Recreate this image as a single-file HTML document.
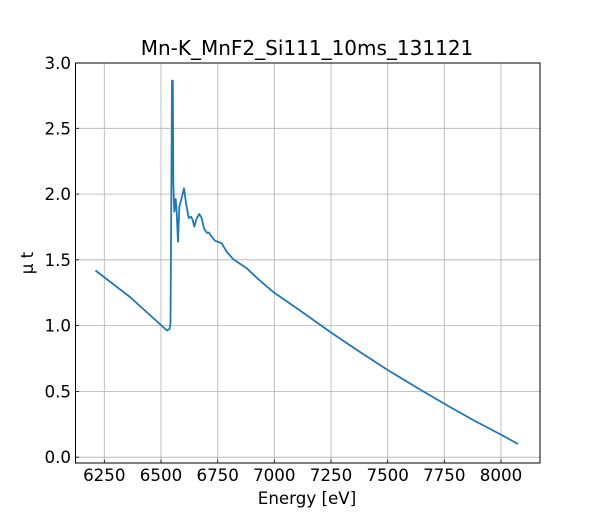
<!DOCTYPE html>
<html><head><meta charset="utf-8"><style>
html,body{margin:0;padding:0;background:#fff;}
svg{display:block;font-family:"DejaVu Sans","Liberation Sans",sans-serif;}
</style></head><body>
<svg width="600" height="520" viewBox="0 0 600 520" xmlns="http://www.w3.org/2000/svg">
<rect width="600" height="520" fill="#fff"/>
<g stroke="#b0b0b0" stroke-width="0.8">
<line x1="104.3" y1="63" x2="104.3" y2="463"/>
<line x1="161" y1="63" x2="161" y2="463"/>
<line x1="217.7" y1="63" x2="217.7" y2="463"/>
<line x1="274.3" y1="63" x2="274.3" y2="463"/>
<line x1="331" y1="63" x2="331" y2="463"/>
<line x1="387.7" y1="63" x2="387.7" y2="463"/>
<line x1="444.3" y1="63" x2="444.3" y2="463"/>
<line x1="501" y1="63" x2="501" y2="463"/>
<line x1="75.5" y1="128.3" x2="540" y2="128.3"/>
<line x1="75.5" y1="194.1" x2="540" y2="194.1"/>
<line x1="75.5" y1="259.8" x2="540" y2="259.8"/>
<line x1="75.5" y1="325.6" x2="540" y2="325.6"/>
<line x1="75.5" y1="391.4" x2="540" y2="391.4"/>
<line x1="75.5" y1="457.2" x2="540" y2="457.2"/>
</g>
<polyline fill="none" stroke="#1f77b4" stroke-width="1.8" stroke-linejoin="round" points="95.5,270.5 130,297 167,330.5 169.5,329 170.5,323 171.3,200 172,80.7 172.8,80.7 173.3,183 174.3,211.7 175.7,199 176.7,213 178,241.7 179.3,206.7 182,196.7 184,188.3 186,203 188.7,218 191,216.7 192.7,220 194.3,226.7 196.7,218.3 199.3,214 201.7,218.3 204,228.3 206.7,232.7 209,232.7 211.7,236.7 215,240.7 221.7,243.3 226.7,251.7 233.3,259.3 246.7,268.3 260,280.7 274.3,292.8 300,310.5 331,332.5 360,352 387.7,370 420,389.5 450,407 475,421 500.7,434.5 518,444"/>
<rect x="75.5" y="63" width="464.5" height="400" fill="none" stroke="#000" stroke-width="1"/>
<g stroke="#000" stroke-width="0.8">
<line x1="104.3" y1="463" x2="104.3" y2="459.5"/><line x1="161" y1="463" x2="161" y2="459.5"/>
<line x1="217.7" y1="463" x2="217.7" y2="459.5"/><line x1="274.3" y1="463" x2="274.3" y2="459.5"/>
<line x1="331" y1="463" x2="331" y2="459.5"/><line x1="387.7" y1="463" x2="387.7" y2="459.5"/>
<line x1="444.3" y1="463" x2="444.3" y2="459.5"/><line x1="501" y1="463" x2="501" y2="459.5"/>
<line x1="75.5" y1="63" x2="79" y2="63"/><line x1="75.5" y1="128.3" x2="79" y2="128.3"/>
<line x1="75.5" y1="194.1" x2="79" y2="194.1"/><line x1="75.5" y1="259.8" x2="79" y2="259.8"/>
<line x1="75.5" y1="325.6" x2="79" y2="325.6"/><line x1="75.5" y1="391.4" x2="79" y2="391.4"/>
<line x1="75.5" y1="457.2" x2="79" y2="457.2"/>
</g>
<g font-size="16.7" fill="#000" text-anchor="middle">
<text x="104.3" y="481">6250</text><text x="161" y="481">6500</text>
<text x="217.7" y="481">6750</text><text x="274.3" y="481">7000</text>
<text x="331" y="481">7250</text><text x="387.7" y="481">7500</text>
<text x="444.3" y="481">7750</text><text x="501" y="481">8000</text>
</g>
<g font-size="16.7" fill="#000" text-anchor="end">
<text x="71" y="69">3.0</text><text x="71" y="134.3">2.5</text>
<text x="71" y="200.1">2.0</text><text x="71" y="265.8">1.5</text>
<text x="71" y="331.6">1.0</text><text x="71" y="397.4">0.5</text>
<text x="71" y="463.2">0.0</text>
</g>
<text x="307" y="504" font-size="16.7" text-anchor="middle">Energy [eV]</text>
<text x="0" y="0" font-size="16.7" text-anchor="middle" transform="translate(33,263) rotate(-90)">μ t</text>
<text x="307" y="55" font-size="20" text-anchor="middle">Mn-K_MnF2_Si111_10ms_131121</text>
</svg>
</body></html>
